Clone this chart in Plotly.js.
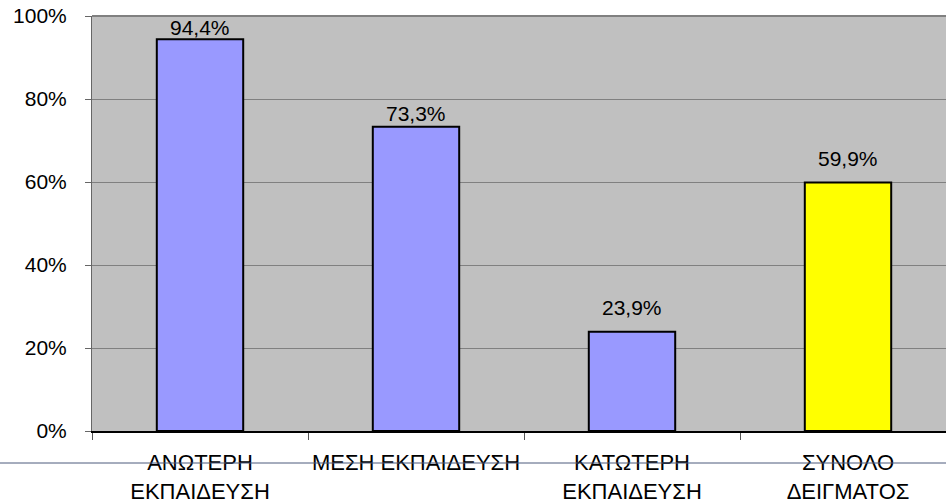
<!DOCTYPE html>
<html>
<head>
<meta charset="utf-8">
<script src="https://cdn.plot.ly/plotly-3.0.1.min.js"></script>
<style>html,body{margin:0;padding:0;background:#fff;}#chart{width:946px;height:503px;}</style>
</head>
<body>
<div id="chart"></div>
<script>
var categories = ["ΑΝΩΤΕΡΗ<br>ΕΚΠΑΙΔΕΥΣΗ", "ΜΕΣΗ ΕΚΠΑΙΔΕΥΣΗ", "ΚΑΤΩΤΕΡΗ<br>ΕΚΠΑΙΔΕΥΣΗ", "ΣΥΝΟΛΟ<br>ΔΕΙΓΜΑΤΟΣ"];
var values = [0.944, 0.733, 0.239, 0.599];
var barColors = ["#9999FF", "#9999FF", "#9999FF", "#FFFF00"];
var yTickVals = [0, 0.2, 0.4, 0.6, 0.8, 1.0];
var yTickText = ["0%", "20%", "40%", "60%", "80%", "100%"];

// label offset (px) above each bar top, as placed in the original
var labelGaps = [-1, 0.5, 11.5, 11];

var labels = values.map(function(v){ return (v*100).toFixed(1).replace('.', ',') + '%'; });

var font = {family: "Liberation Sans, Arial, sans-serif", size: 21, color: "#000"};
var xFont = {family: "Liberation Sans, Arial, sans-serif", size: 22, color: "#000"};

var trace = {
  type: 'bar',
  x: categories,
  y: values,
  width: 0.4,
  marker: {color: barColors, line: {color: '#000', width: 2}},
  hoverinfo: 'none'
};

var annotations = categories.map(function(c, i){
  return {x: c, y: values[i], xref: 'x', yref: 'y', text: labels[i], showarrow: false,
          yanchor: 'bottom', xanchor: 'center', yshift: labelGaps[i], borderpad: 0, font: font};
});

// visible plot: 4 categories at 216px each starting at x=92, cut at 946
var rightEdge = 3.5 - (956 - 946) / 216;

var layout = {
  width: 946, height: 503,
  margin: {l: 92, r: 0, t: 16, b: 72, pad: 0},
  paper_bgcolor: '#fff',
  plot_bgcolor: '#C0C0C0',
  font: font,
  showlegend: false,
  xaxis: {
    type: 'category',
    range: [-0.5, rightEdge],
    showline: true, linecolor: '#000', linewidth: 1.5,
    ticks: 'outside', tickson: 'boundaries', ticklen: 7, tickcolor: '#555', tickwidth: 1,
    showgrid: false,
    tickangle: 0,
    tickfont: xFont,
    ticklabelstandoff: 11,
    fixedrange: true
  },
  yaxis: {
    range: [0, 1],
    tickvals: yTickVals, ticktext: yTickText,
    showline: true, linecolor: '#666', linewidth: 1,
    ticks: 'outside', ticklen: 6, tickcolor: '#666',
    showgrid: true, gridcolor: '#808080', gridwidth: 1,
    zeroline: false,
    tickfont: font,
    ticklabelstandoff: 14,
    fixedrange: true
  },
  annotations: annotations,
  shapes: [
    {type: 'line', xref: 'paper', yref: 'paper', x0: 0, x1: 1, y0: 1, y1: 1,
     line: {color: '#808080', width: 2}},
    {type: 'line', xref: 'paper', yref: 'paper', x0: -92/854, x1: 1, y0: -32/415, y1: -32/415,
     line: {color: '#4d5b7c', width: 1}}
  ]
};

Plotly.newPlot('chart', [trace], layout, {displayModeBar: false, staticPlot: true});
</script>
</body>
</html>
